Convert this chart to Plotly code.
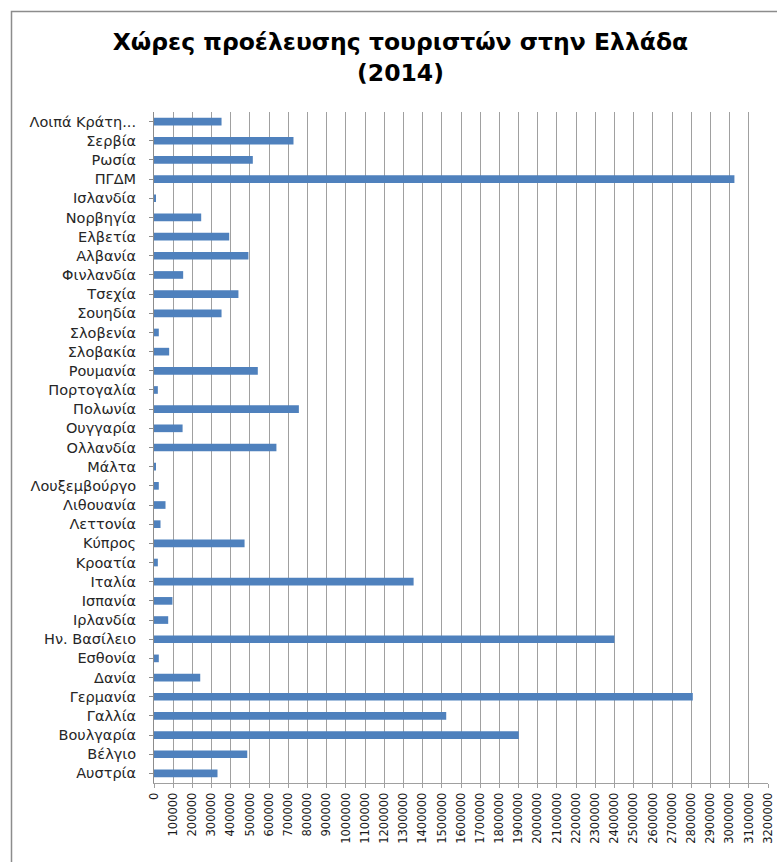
import plotly.graph_objects as go

countries = [
    "Αυστρία", "Βέλγιο", "Βουλγαρία", "Γαλλία", "Γερμανία", "Δανία", "Εσθονία",
    "Ην. Βασίλειο", "Ιρλανδία", "Ισπανία", "Ιταλία", "Κροατία", "Κύπρος",
    "Λεττονία", "Λιθουανία", "Λουξεμβούργο", "Μάλτα", "Ολλανδία", "Ουγγαρία",
    "Πολωνία", "Πορτογαλία", "Ρουμανία", "Σλοβακία", "Σλοβενία", "Σουηδία",
    "Τσεχία", "Φινλανδία", "Αλβανία", "Ελβετία", "Νορβηγία", "Ισλανδία",
    "ΠΓΔΜ", "Ρωσία", "Σερβία", "Λοιπά Κράτη...",
]
tourists = [
    331000, 486000, 1901000, 1523000, 2808000, 241000, 25000,
    2400000, 74000, 96000, 1353000, 20000, 472000,
    34000, 60000, 25000, 9000, 638000, 149000,
    755000, 20000, 541000, 79000, 25000, 352000,
    440000, 152000, 492000, 392000, 246000, 6000,
    3025000, 515000, 727000, 352000,
]
tick_values = list(range(0, 3200001, 100000))
tick_labels = [str(v) for v in tick_values]
title_text = "Χώρες προέλευσης τουριστών στην Ελλάδα<br>(2014)"

fig = go.Figure(
    go.Bar(
        x=tourists,
        y=countries,
        orientation="h",
        marker=dict(color="#4F81BD", line=dict(width=0)),
    )
)

L, R, T, B = 154, 9, 112, 79
W, H = 777, 862
pw, ph = W - L - R, H - T - B

fig.update_layout(
    width=W,
    height=H,
    margin=dict(l=L, r=R, t=T, b=B, pad=0, autoexpand=False),
    paper_bgcolor="white",
    plot_bgcolor="white",
    bargap=0.6,
    showlegend=False,
    title=dict(
        text=title_text,
        x=(400.5 - L) / pw,
        xref="paper",
        xanchor="center",
        y=1 - 50 / H,
        yanchor="middle",
        font=dict(family="DejaVu Sans", size=23.5, color="black", weight="bold"),
    ),
    font=dict(family="DejaVu Sans", color="#1a1a1a"),
)

fig.update_xaxes(
    range=[0, 3200000],
    tickvals=tick_values,
    ticktext=tick_labels,
    tickangle=-90,
    tickfont=dict(family="DejaVu Sans", size=11.5, color="#1a1a1a"),
    showgrid=True,
    gridcolor="#a0a0a0",
    gridwidth=1,
    showline=True,
    linecolor="#a0a0a0",
    linewidth=1,
    ticks="outside",
    ticklen=4,
    tickcolor="#a0a0a0",
    zeroline=False,
    automargin=False,
    fixedrange=True,
)
fig.update_yaxes(
    type="category",
    categoryorder="array",
    categoryarray=countries,
    tickfont=dict(family="DejaVu Sans", size=14.5, color="#262626"),
    showline=True,
    linecolor="#8c8c8c",
    linewidth=1,
    ticks="outside",
    ticklen=4,
    tickcolor="#8c8c8c",
    ticklabelstandoff=10,
    showgrid=False,
    range=[-0.5, len(countries) - 0.5],
    automargin=False,
    fixedrange=True,
)

# outer chart frame (top and left edges visible)
fig.add_shape(
    type="rect",
    xref="paper", yref="paper",
    x0=(11.5 - L) / pw, x1=(W + 20 - L) / pw,
    y0=-(B + 20) / ph, y1=1 + (T - 11.5) / ph,
    line=dict(color="#8c8c8c", width=1.5),
    fillcolor="rgba(0,0,0,0)",
    layer="below",
)

fig.write_html(
    "out.html",
    config={"displayModeBar": False},
    post_script="document.body.style.margin='0';document.body.style.overflow='hidden';",
)
